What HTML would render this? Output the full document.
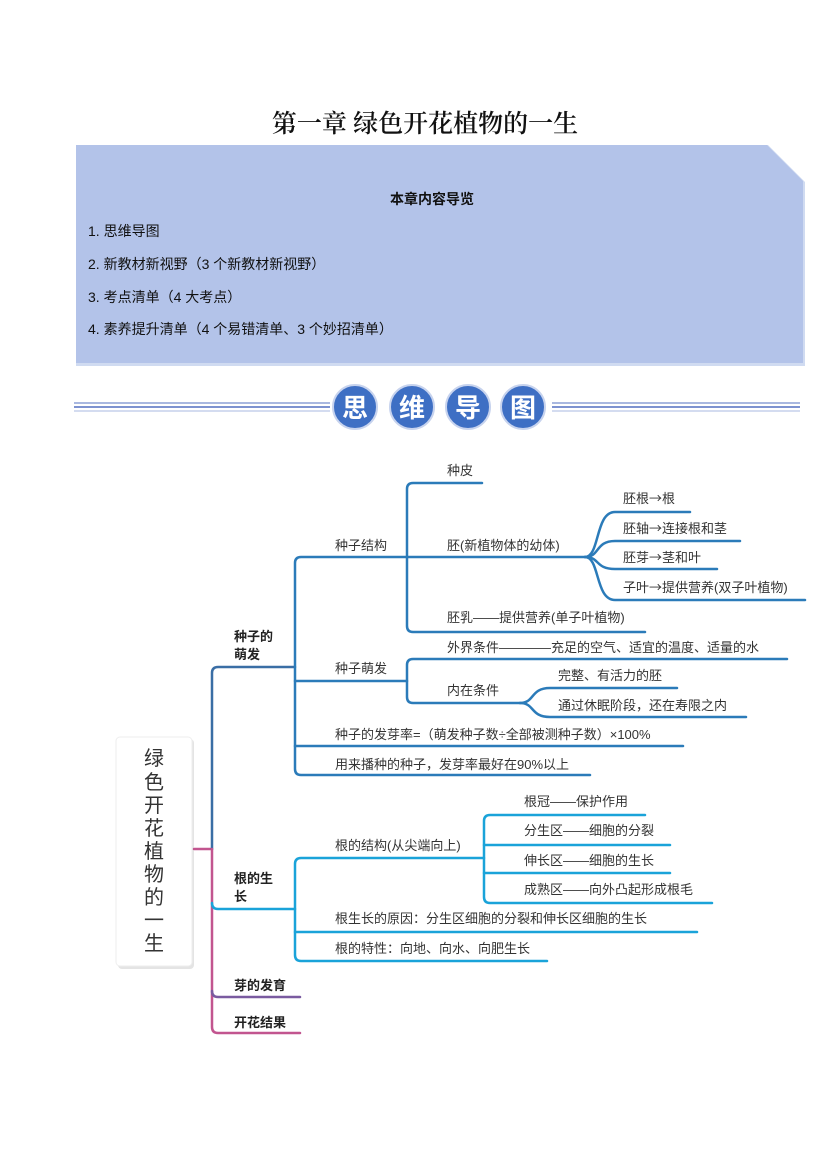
<!DOCTYPE html>
<html><head><meta charset="utf-8"><style>
html,body{margin:0;padding:0;background:#fff}
body{width:827px;height:1169px;position:relative;overflow:hidden;font-family:"Liberation Sans","Noto Sans CJK SC",sans-serif}
svg text{font-family:"Liberation Sans","Noto Sans CJK SC",sans-serif}
.ar{font-family:"Noto Sans CJK SC",sans-serif}
</style></head><body>
<svg width="827" height="1169" viewBox="0 0 827 1169" xmlns="http://www.w3.org/2000/svg">
<text x="425" y="132" text-anchor="middle" font-size="25" font-weight="600" style="font-family:'Noto Serif CJK SC','Liberation Serif',serif" fill="#111">第一章  绿色开花植物的一生</text>
<polygon points="76,145 768,145 805,182 805,366 76,366" fill="#d0dbf1"/>
<polygon points="76,145 767,145 803,181 803,363 76,363" fill="#b3c3e9"/>
<text x="432" y="204" text-anchor="middle" font-size="14" font-weight="bold" fill="#111">本章内容导览</text>
<g font-size="14" fill="#111">
<text x="88" y="236">1. 思维导图</text>
<text x="88" y="269">2. 新教材新视野（3 个新教材新视野）</text>
<text x="88" y="302">3. 考点清单（4 大考点）</text>
<text x="88" y="334">4. 素养提升清单（4 个易错清单、3 个妙招清单）</text>
</g>
<g stroke="#a9b8e0" stroke-width="2"><line x1="74" y1="403" x2="330" y2="403"/><line x1="552" y1="403" x2="800" y2="403"/></g>
<g stroke="#7d92d0" stroke-width="2"><line x1="74" y1="407" x2="330" y2="407"/><line x1="552" y1="407" x2="800" y2="407"/></g>
<g stroke="#d4dcf0" stroke-width="2"><line x1="74" y1="411" x2="330" y2="411"/><line x1="552" y1="411" x2="800" y2="411"/></g>
<g fill="#3e6fc4" stroke="#c7d3ee" stroke-width="2">
<circle cx="355" cy="407" r="22"/><circle cx="412" cy="407" r="22"/><circle cx="468" cy="407" r="22"/><circle cx="523" cy="407" r="22"/></g>
<g fill="#fff" font-size="26" font-weight="bold" text-anchor="middle">
<text x="355" y="417">思</text><text x="412" y="417">维</text><text x="468" y="417">导</text><text x="523" y="417">图</text></g>

<rect x="118" y="739" width="76" height="230" rx="4" fill="#e4e4e4"/>
<rect x="116" y="737" width="76" height="229" rx="4" fill="#fff" stroke="#eee"/>
<g font-size="20" fill="#333" text-anchor="middle">
<text x="154" y="765">绿</text><text x="154" y="789">色</text><text x="154" y="812">开</text><text x="154" y="835">花</text><text x="154" y="858">植</text><text x="154" y="881">物</text><text x="154" y="904">的</text><text x="154" y="927">一</text><text x="154" y="950">生</text></g>

<g fill="none" stroke-width="2.5" stroke-linecap="round">
<path d="M194,849 H212" stroke="#c2558f"/>
<path d="M295,667 H218 Q212,667 212,673 V849" stroke="#3a6ea5"/>
<path d="M212,849 V1027 Q212,1033 218,1033 H300" stroke="#c2558f"/>
<path d="M212,991 Q212,997 218,997 H300" stroke="#7a5ba0"/>
<path d="M212,903 Q212,909 218,909 H295" stroke="#1aa3d9"/>
<g stroke="#2b7bb9">
<path d="M407,557 H301 Q295,557 295,563 V769 Q295,775 301,775 H590"/>
<path d="M295,681 H407"/>
<path d="M295,746 H683"/>
<path d="M482,483 H413 Q407,483 407,489 V626 Q407,632 413,632 H645"/>
<path d="M407,557 H585"/>
<path d="M787,659 H413 Q407,659 407,665 V697 Q407,703 413,703 H520"/>
<path d="M585,557 C600,557 595,512 615,512 H690"/>
<path d="M585,557 C600,557 595,541 615,541 H740"/>
<path d="M585,557 C600,557 595,569 615,569 H717"/>
<path d="M585,557 C600,557 595,600 615,600 H805"/>
<path d="M520,703 C535,703 530,688 550,688 H677"/>
<path d="M520,703 C535,703 530,717 550,717 H746"/>
</g>
<g stroke="#1aa3d9">
<path d="M484,858 H301 Q295,858 295,864 V955 Q295,961 301,961 H547"/>
<path d="M295,932 H697"/>
<path d="M645,815 H490 Q484,815 484,821 V897 Q484,903 490,903 H712"/>
<path d="M484,845 H670"/>
<path d="M484,873 H670"/>
</g>
</g>

<g font-size="13" font-weight="bold" fill="#222">
<text x="234" y="641">种子的</text><text x="234" y="659">萌发</text>
<text x="234" y="883">根的生</text><text x="234" y="901">长</text>
<text x="234" y="990">芽的发育</text>
<text x="234" y="1027">开花结果</text>
</g>
<g font-size="13" fill="#333">
<text x="335" y="550">种子结构</text>
<text x="447" y="475">种皮</text>
<text x="447" y="550">胚(新植物体的幼体)</text>
<text x="623" y="503">胚根<tspan class="ar">→</tspan>根</text>
<text x="623" y="533">胚轴<tspan class="ar">→</tspan>连接根和茎</text>
<text x="623" y="562">胚芽<tspan class="ar">→</tspan>茎和叶</text>
<text x="623" y="592">子叶<tspan class="ar">→</tspan>提供营养(双子叶植物)</text>
<text x="447" y="622">胚乳——提供营养(单子叶植物)</text>
<text x="447" y="652">外界条件————充足的空气、适宜的温度、适量的水</text>
<text x="335" y="673">种子萌发</text>
<text x="447" y="695">内在条件</text>
<text x="558" y="680">完整、有活力的胚</text>
<text x="558" y="710">通过休眠阶段，还在寿限之内</text>
<text x="335" y="739">种子的发芽率=（萌发种子数÷全部被测种子数）×100%</text>
<text x="335" y="769">用来播种的种子，发芽率最好在90%以上</text>
<text x="335" y="850">根的结构(从尖端向上)</text>
<text x="524" y="806">根冠——保护作用</text>
<text x="524" y="835">分生区——细胞的分裂</text>
<text x="524" y="865">伸长区——细胞的生长</text>
<text x="524" y="894">成熟区——向外凸起形成根毛</text>
<text x="335" y="923">根生长的原因：分生区细胞的分裂和伸长区细胞的生长</text>
<text x="335" y="953">根的特性：向地、向水、向肥生长</text>
</g>
</svg>
</body></html>
